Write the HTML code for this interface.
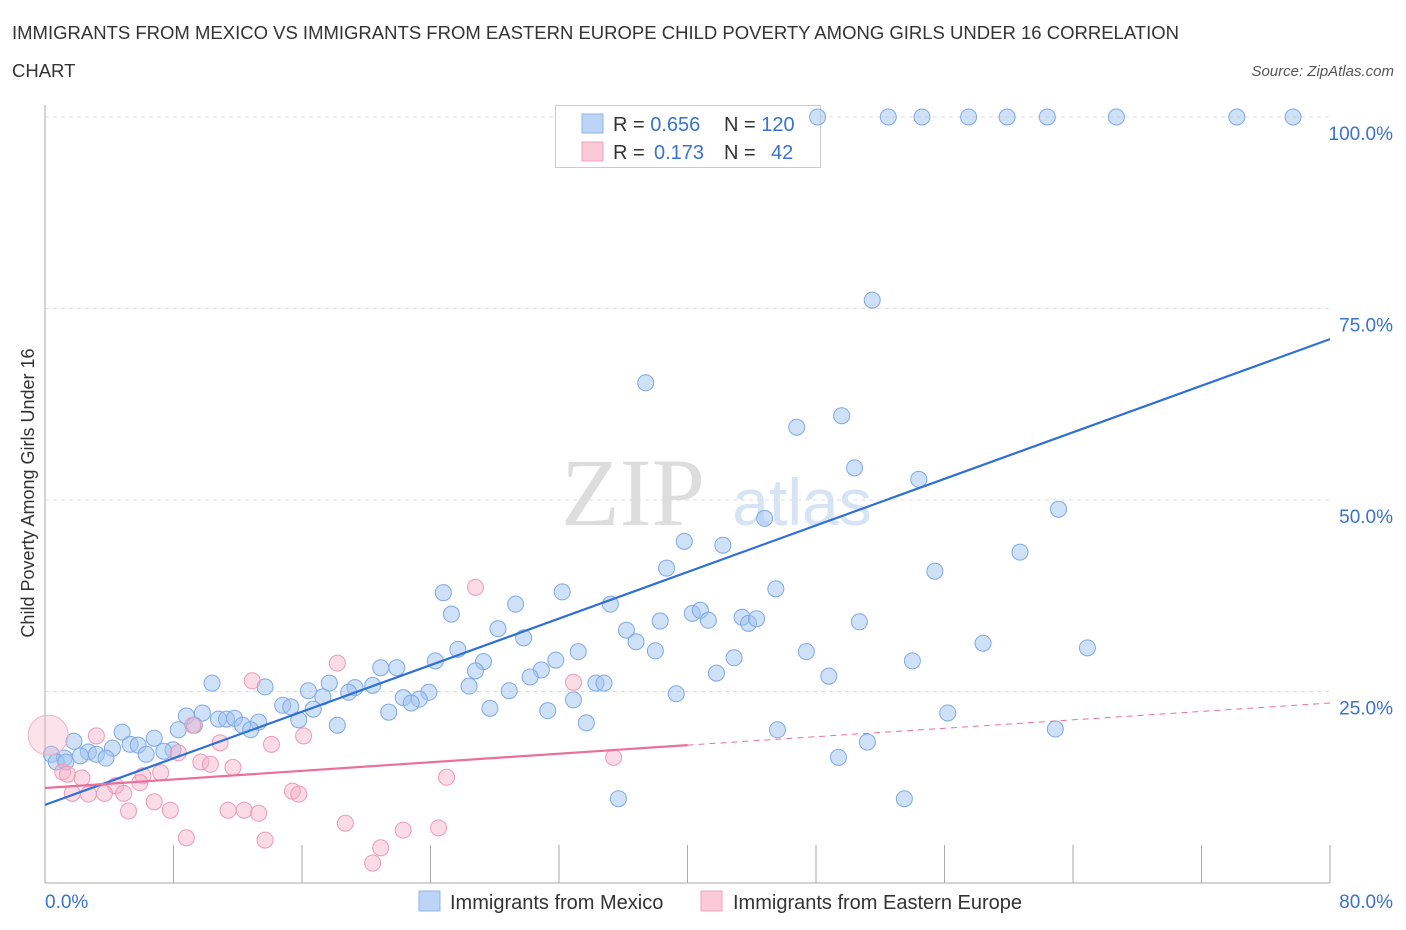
<!DOCTYPE html>
<html><head><meta charset="utf-8">
<style>
body{margin:0;background:#fff;font-family:"Liberation Sans",sans-serif;}
svg{display:block}
</style></head>
<body>
<svg id="chart" width="1406" height="930">
<text x="12" y="39" font-size="18.5" fill="#333" textLength="1167">IMMIGRANTS FROM MEXICO VS IMMIGRANTS FROM EASTERN EUROPE CHILD POVERTY AMONG GIRLS UNDER 16 CORRELATION</text>
<text x="12" y="77" font-size="18.5" fill="#333">CHART</text>
<text x="1394" y="76" font-size="15" fill="#555" font-style="italic" text-anchor="end">Source: ZipAtlas.com</text>
<text x="633" y="525" font-size="96" fill="#ddd" font-family="Liberation Serif,serif" text-anchor="middle">ZIP</text>
<text x="802" y="525" font-size="66" fill="#d6e4f5" text-anchor="middle">atlas</text>
<g id="grid"></g>
<g>
<rect x="555.5" y="105.5" width="265" height="62" fill="#fff" stroke="#ccc"/>
<rect x="582" y="114" width="21" height="19" fill="#bcd4f5" stroke="#8fb4ea"/>
<rect x="582" y="142" width="21" height="19" fill="#fbc9d8" stroke="#f0a3bc"/>
<text x="613" y="131" font-size="20" fill="#333">R = <tspan fill="#3a73cc">0.656</tspan></text>
<text x="724" y="131" font-size="20" fill="#333">N = <tspan fill="#3a73cc">120</tspan></text>
<text x="613" y="159" font-size="20" fill="#333">R = <tspan fill="#3a73cc" x="654">0.173</tspan></text>
<text x="724" y="159" font-size="20" fill="#333">N = <tspan fill="#3a73cc" x="771">42</tspan></text>
</g>
<g id="pts"></g>
<g id="lines"></g>
<text x="34" y="493" font-size="18" fill="#333" text-anchor="middle" transform="rotate(-90 34 493)">Child Poverty Among Girls Under 16</text>
<g>
<rect x="419" y="891" width="21" height="20" fill="#bcd4f5" stroke="#8fb4ea"/>
<text x="450" y="909" font-size="20" fill="#333">Immigrants from Mexico</text>
<rect x="701" y="891" width="21" height="20" fill="#fbc9d8" stroke="#f0a3bc"/>
<text x="733" y="909" font-size="20" fill="#333">Immigrants from Eastern Europe</text>
</g>
</svg>
<script>
const xTickLabels=["0.0%","80.0%"];
const yTicks=[25,50,75,100];
const yTickLabels=["25.0%","50.0%","75.0%","100.0%"];
const blueX=[48.1,52.5,54.6,57.5,59.9,62.4,66.7,74.2,77.7,51.5,37.4,46.8,49.6,50.4,54.4,44.8,63.1,39.8,42.2,60.7,55.4,38.7,45.5,24.8,32.2,29.3,35.2,25.3,40.3,40.8,41.3,43.4,43.8,44.3,38.3,50.7,28.2,36.2,29.8,36.8,58.4,64.9,25.7,38.0,47.4,33.2,31.8,42.9,54.0,24.3,27.3,20.9,21.9,30.9,26.8,41.8,48.8,30.2,10.4,17.7,13.7,20.4,34.3,34.8,26.4,19.3,16.4,28.9,18.9,23.9,39.3,17.3,22.3,23.3,32.9,22.8,14.8,15.3,16.7,27.7,31.3,21.4,56.2,8.8,9.8,10.8,11.3,11.8,15.8,33.7,12.3,13.3,18.2,9.3,12.8,8.3,4.8,45.6,62.9,6.8,1.8,5.3,5.8,51.2,7.97,4.2,7.4,2.7,3.2,6.3,0.4,2.2,1.2,3.8,0.7,1.3,49.4,35.7,53.5];
const blueY=[100,100,100,100,100,100,100,100,100,76.1,65.3,59.5,61.0,54.2,52.7,47.6,48.8,44.6,44.1,43.2,40.7,41.1,38.4,37.9,38.0,36.4,36.4,35.1,35.2,35.6,34.3,34.7,33.9,34.5,34.2,34.1,33.2,33.0,32.0,31.5,31.3,30.7,30.5,30.3,30.2,30.2,29.1,29.4,29.0,29.0,28.9,28.1,28.1,27.8,27.7,27.4,27.0,26.9,26.1,26.1,25.6,25.8,26.1,26.1,25.7,25.5,25.1,25.1,24.9,24.9,24.7,24.3,24.2,24.0,23.9,23.5,23.2,23.0,22.7,22.8,22.5,22.3,22.2,21.8,22.2,21.4,21.4,21.5,21.3,20.9,20.6,21.0,20.6,20.6,20.0,20.0,19.7,20.0,20.1,18.9,18.5,18.1,18.0,18.4,17.4,17.6,17.2,17.1,16.8,16.8,16.8,16.6,16.3,16.3,15.8,15.8,16.4,11.0,11.0];
const pinkX=[26.8,18.2,12.9,32.9,3.2,9.2,10.9,16.1,14.1,8.3,9.7,10.3,11.7,35.4,1.1,1.4,2.3,7.2,6.1,25.0,4.4,5.9,4.9,1.7,2.7,3.7,15.4,15.8,6.8,7.8,5.2,11.4,12.4,13.3,18.7,22.3,24.5,8.8,13.7,20.9,20.4];
const pinkY=[38.6,28.7,26.4,26.2,19.2,20.6,18.3,19.2,18.1,17.0,15.8,15.5,15.1,16.4,14.5,14.2,13.7,14.4,14.0,13.8,12.7,13.1,11.7,11.7,11.6,11.7,12.0,11.6,10.6,9.5,9.4,9.5,9.5,9.1,7.8,6.9,7.2,5.9,5.6,4.6,2.6];
const blueLine=[10.2,71.0];
const pinkLine=[12.4,18.0,23.5];
const NS="http://www.w3.org/2000/svg";
const X=v=>45+v*(1285/80), Y=v=>883-v*7.66;
function mk(t,a,p){const e=document.createElementNS(NS,t);for(const k in a)e.setAttribute(k,a[k]);p.appendChild(e);return e;}
const grid=document.getElementById('grid');
yTicks.forEach((t,i)=>{
 const l=mk('line',{x1:45,x2:1330,y1:Y(t),y2:Y(t),stroke:'#ddd','stroke-dasharray':'4,4'},grid);
 
 
 const tx=mk('text',{x:1393,y:Y(t)+23,'font-size':19,fill:'#3a73cc','text-anchor':'end'},grid);
 tx.textContent=yTickLabels[i];
 
 
});
mk('line',{x1:45,x2:45,y1:105,y2:883,stroke:'#aaa'},grid);
mk('line',{x1:45,x2:1330,y1:883,y2:883,stroke:'#aaa'},grid);
for(let i=0;i<=10;i++){const t=mk('line',{x1:X(i*8),x2:X(i*8),y1:845,y2:883,stroke:'#aaa'},grid);
 
 }
[[X(0),'start',0],[1393,'end',1]].forEach(([x,a,i])=>{const t=mk('text',{x:x,y:908,'font-size':19,fill:'#3a73cc','text-anchor':a},grid);t.textContent=xTickLabels[i];
 
 });
const pts=document.getElementById('pts');
blueX.forEach((x,i)=>{const c=mk('circle',{cx:X(x),cy:Y(blueY[i]),r:8,fill:'rgba(160,195,240,0.5)',stroke:'#7ea9e6','stroke-width':1},pts);
 
 });
pinkX.forEach((x,i)=>{const c=mk('circle',{cx:X(x),cy:Y(pinkY[i]),r:8,fill:'rgba(246,175,198,0.45)',stroke:'#ee9ab5','stroke-width':1},pts);
 
 });
const big=mk('circle',{cx:X(0.2),cy:Y(19.3),r:20,fill:'rgba(246,175,198,0.35)',stroke:'#f0b0c5'},pts);


const lg=document.getElementById('lines');
const bl=mk('line',{x1:X(0),y1:Y(blueLine[0]),x2:X(80),y2:Y(blueLine[1]),stroke:'#2f6fd6','stroke-width':2.2},lg);


const pl=mk('line',{x1:X(0),y1:Y(pinkLine[0]),x2:X(40),y2:Y(pinkLine[1]),stroke:'#e8709a','stroke-width':2.2},lg);


const pd=mk('line',{x1:X(40),y1:Y(pinkLine[1]),x2:X(80),y2:Y(pinkLine[2]),stroke:'#e8709a','stroke-width':1,'stroke-dasharray':'6,5'},lg);


</script>
</body></html>
